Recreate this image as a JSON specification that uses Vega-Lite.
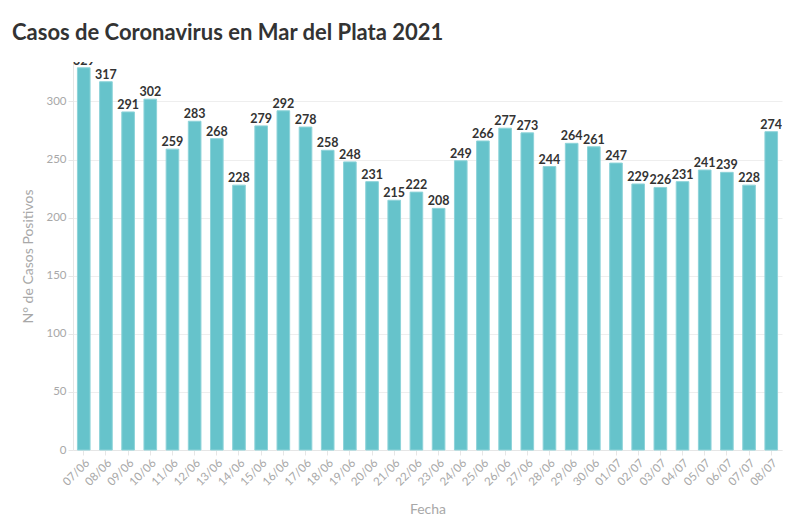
{
  "$schema": "https://vega.github.io/schema/vega-lite/v6.json",
  "autosize": "none",
  "width": 709,
  "height": 388,
  "padding": {"left": 73, "top": 62, "right": 18, "bottom": 73},
  "title": {
    "text": "Casos de Coronavirus en Mar del Plata 2021",
    "anchor": "start",
    "frame": "group",
    "dx": -61,
    "offset": 17,
    "font": "Lato",
    "fontSize": 22,
    "fontWeight": "bold",
    "color": "#333333"
  },
  "data": {
    "values": [
      {"fecha": "07/06", "casos": 329},
      {"fecha": "08/06", "casos": 317},
      {"fecha": "09/06", "casos": 291},
      {"fecha": "10/06", "casos": 302},
      {"fecha": "11/06", "casos": 259},
      {"fecha": "12/06", "casos": 283},
      {"fecha": "13/06", "casos": 268},
      {"fecha": "14/06", "casos": 228},
      {"fecha": "15/06", "casos": 279},
      {"fecha": "16/06", "casos": 292},
      {"fecha": "17/06", "casos": 278},
      {"fecha": "18/06", "casos": 258},
      {"fecha": "19/06", "casos": 248},
      {"fecha": "20/06", "casos": 231},
      {"fecha": "21/06", "casos": 215},
      {"fecha": "22/06", "casos": 222},
      {"fecha": "23/06", "casos": 208},
      {"fecha": "24/06", "casos": 249},
      {"fecha": "25/06", "casos": 266},
      {"fecha": "26/06", "casos": 277},
      {"fecha": "27/06", "casos": 273},
      {"fecha": "28/06", "casos": 244},
      {"fecha": "29/06", "casos": 264},
      {"fecha": "30/06", "casos": 261},
      {"fecha": "01/07", "casos": 247},
      {"fecha": "02/07", "casos": 229},
      {"fecha": "03/07", "casos": 226},
      {"fecha": "04/07", "casos": 231},
      {"fecha": "05/07", "casos": 241},
      {"fecha": "06/07", "casos": 239},
      {"fecha": "07/07", "casos": 228},
      {"fecha": "08/07", "casos": 274}
    ]
  },
  "encoding": {
    "x": {
      "field": "fecha",
      "type": "nominal",
      "sort": null,
      "title": "Fecha",
      "scale": {"paddingInner": 0.43, "paddingOuter": 0.2},
      "axis": {
        "labelAngle": -45,
        "labelAlign": "right",
        "labelBaseline": "top",
        "labelFont": "Lato",
        "labelFontSize": 11.5,
        "labelColor": "#a8a8a8",
        "tickColor": "#e6e6e6",
        "domainColor": "#e6e6e6",
        "titleFont": "Lato",
        "titleFontSize": 14,
        "titleFontWeight": "normal",
        "titleColor": "#a8a8a8",
        "titlePadding": 15
      }
    },
    "y": {
      "field": "casos",
      "type": "quantitative",
      "title": "N° de Casos Positivos",
      "scale": {"domain": [0, 334], "nice": false},
      "axis": {
        "values": [0, 50, 100, 150, 200, 250, 300],
        "labelFont": "Lato",
        "labelFontSize": 11.5,
        "labelColor": "#a8a8a8",
        "tickColor": "#e6e6e6",
        "domainColor": "#e6e6e6",
        "gridColor": "#eeeeee",
        "titleFont": "Lato",
        "titleFontSize": 14,
        "titleFontWeight": "normal",
        "titleColor": "#a8a8a8",
        "titlePadding": 10
      }
    }
  },
  "layer": [
    {
      "mark": {"type": "bar", "color": "#66c3cb", "stroke": "#8dd3d9", "strokeWidth": 1}
    },
    {
      "mark": {
        "type": "text",
        "dy": -7,
        "font": "Lato",
        "fontSize": 12.5,
        "fontWeight": "bold",
        "color": "#333333",
        "clip": true
      },
      "encoding": {"text": {"field": "casos", "type": "quantitative"}}
    }
  ],
  "config": {"view": {"stroke": null}}
}
